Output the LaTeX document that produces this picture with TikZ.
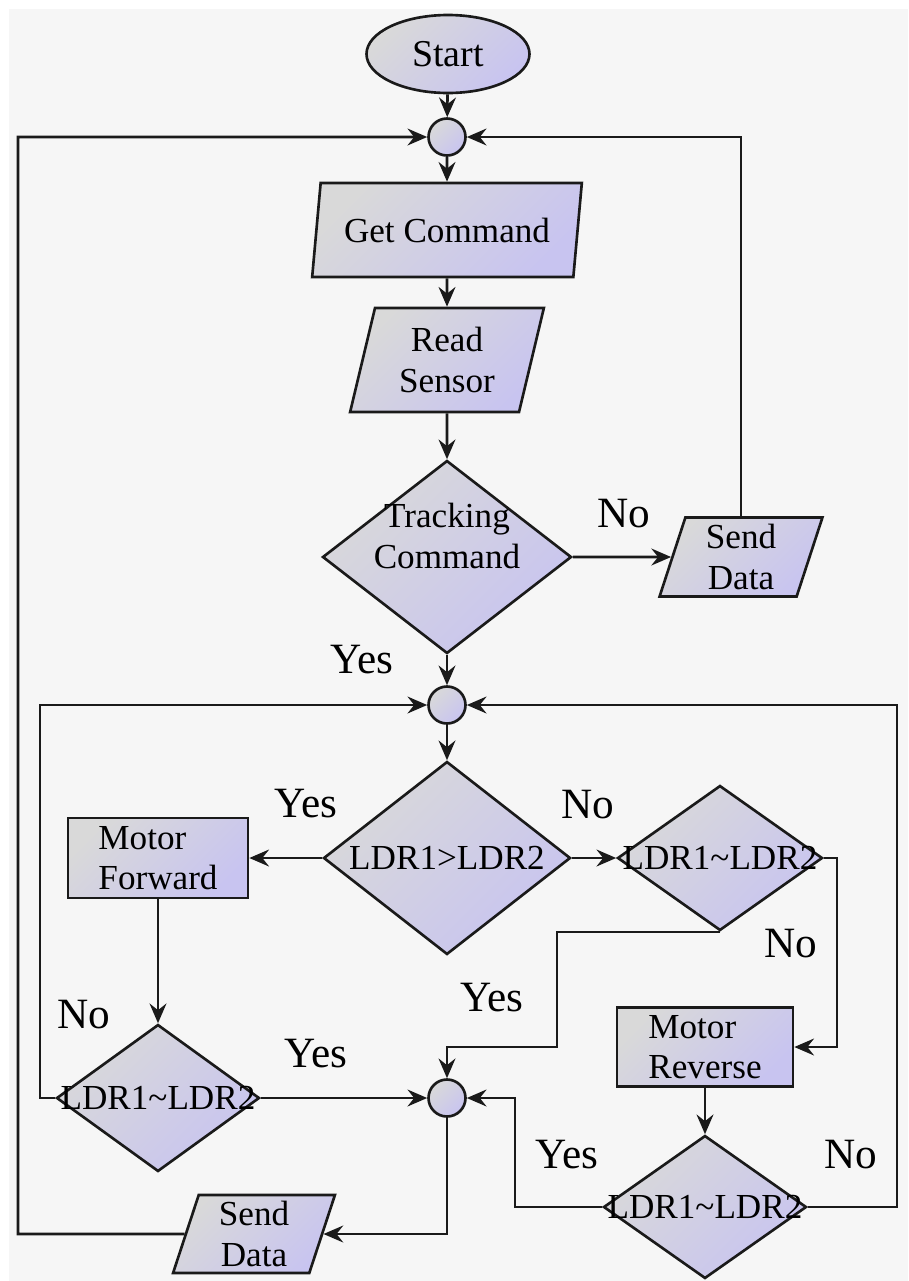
\documentclass[tikz,border=0pt]{standalone}
\usepackage{fontspec}
\setmainfont{Liberation Serif}
\usetikzlibrary{shapes.geometric,arrows.meta}
\definecolor{bg}{HTML}{F6F6F6}
\definecolor{gfill}{HTML}{D9D9D9}
\definecolor{lfill}{HTML}{C8C4F0}
\definecolor{ink}{HTML}{1A1A1A}
\tikzset{
  base/.style={draw=ink, line width=0.75pt, top color=gfill, bottom color=lfill, shading angle=45,
    font=\fontsize{10}{11.5}\selectfont, inner sep=0.5pt},
  para/.style={base, trapezium, trapezium left angle=76, trapezium right angle=104,
    trapezium stretches=true, align=center},
  proc/.style={base, rectangle, align=left, inner sep=0pt},
  decision/.style={base, diamond, inner sep=0pt},
  joint/.style={base, circle, minimum size=0.37cm, inner sep=0pt},
  term/.style={base, ellipse, minimum width=1.63cm, minimum height=0.78cm},
  arr/.style={draw=ink, line width=0.75pt, -{Stealth[length=5.6pt,width=4.8pt,inset=1.9pt]}},
  lbl/.style={font=\fontsize{12.3}{14}\selectfont, inner sep=0pt},
  dtext/.style={font=\fontsize{10}{11.5}\selectfont, align=center, inner sep=0pt}
}
\begin{document}
\begin{tikzpicture}
\useasboundingbox (0,0) rectangle (9.08,-12.81);
\fill[white] (0,0) rectangle (9.08,-12.81);
\fill[bg] (0.09,-0.09) rectangle (9.08,-12.81);

% nodes
\node[term, font=\fontsize{10.8}{12}\selectfont] (start) at (4.48,-0.54) {Start};
\node[joint] (c1) at (4.47,-1.37) {};
\node[para, minimum width=2.70cm, minimum height=0.94cm] (get) at (4.47,-2.30) {Get Command};
\node[para, minimum width=1.94cm, minimum height=1.04cm] (read) at (4.47,-3.60) {Read\\Sensor};
\node[decision, minimum width=2.49cm, minimum height=1.93cm] (track) at (4.47,-5.57) {};
\node[dtext] (tracktext) at (4.47,-5.36) {Tracking\\Command};
\node[para, minimum width=1.63cm, minimum height=0.79cm] (send1) at (7.41,-5.57) {Send\\Data};
\node[joint] (c2) at (4.47,-7.05) {};
\node[decision, minimum width=2.47cm, minimum height=1.93cm] (cmp) at (4.47,-8.58) {\makebox[0pt]{LDR1>LDR2}};
\node[proc, minimum width=1.80cm, minimum height=0.80cm] (mf) at (1.58,-8.58) {Motor\\Forward};
\node[decision, minimum width=2.05cm, minimum height=1.45cm] (eq2) at (7.20,-8.58) {\makebox[0pt]{LDR1\textasciitilde LDR2}};
\node[decision, minimum width=2.03cm, minimum height=1.47cm] (eq1) at (1.58,-10.98) {\makebox[0pt]{LDR1\textasciitilde LDR2}};
\node[joint] (c3) at (4.47,-10.98) {};
\node[proc, minimum width=1.76cm, minimum height=0.79cm] (mr) at (7.05,-10.47) {Motor\\Reverse};
\node[decision, minimum width=2.03cm, minimum height=1.43cm] (eq3) at (7.05,-12.07) {\makebox[0pt]{LDR1\textasciitilde LDR2}};
\node[para, minimum width=1.62cm, minimum height=0.78cm] (send2) at (2.54,-12.34) {Send\\Data};

% helper coordinates
\coordinate (lb) at (0.18,-12.34);
\coordinate (lt) at (0.18,-1.37);
\coordinate (ll1) at (0.40,-10.98);
\coordinate (ll2) at (0.40,-7.05);
\coordinate (e2r) at (8.37,-8.58);
\coordinate (e2b) at (5.57,-10.47);
\coordinate (e3l) at (5.15,-10.98);
\coordinate (e3r) at (8.97,-7.05);

% connectors
\draw[arr] (start) -- (c1);
\draw[arr] (c1) -- (get);
\draw[arr] (get) -- (read);
\draw[arr] (read) -- (track);
\draw[arr] (track.east) -- (send1);
\draw[arr] (send1.north) |- (c1.east);
\draw[arr] (track.south) -- (c2);
\draw[arr] (c2) -- (cmp.north);
\draw[arr] (cmp.west) -- (mf.east);
\draw[arr] (cmp.east) -- (eq2.west);
\draw[arr] (mf.south) -- (eq1.north);
\draw[arr] (eq1.east) -- (c3.west);
\draw[arr] (eq1.west) -- (ll1) -- (ll2) -- (c2.west);
\draw[arr] (eq2.east) -- (e2r) |- (mr.east);
\draw[arr] (eq2.south) -| (e2b) -- (c3.north |- e2b) -- (c3.north);
\draw[arr] (mr.south) -- (eq3.north);
\draw[arr] (eq3.west) -| (e3l) -- (c3.east);
\draw[arr] (eq3.east) -| (e3r) -- (c2.east);
\draw[arr] (c3.south) |- (send2.east);
\draw[arr] (send2.west) -- (lb) -- (lt) -- (c1.west);

% labels
\node[lbl] (lNo1) at (6.24,-5.14) {No};
\node[lbl] (lYes1) at (3.62,-6.60) {Yes};
\node[lbl] (lYes2) at (3.06,-8.04) {Yes};
\node[lbl] (lNo2) at (5.88,-8.05) {No};
\node[lbl] (lNo3) at (7.91,-9.44) {No};
\node[lbl] (lYes3) at (4.92,-9.98) {Yes};
\node[lbl] (lNo4) at (0.84,-10.15) {No};
\node[lbl] (lYes4) at (3.16,-10.54) {Yes};
\node[lbl] (lYes5) at (5.67,-11.55) {Yes};
\node[lbl] (lNo5) at (8.51,-11.55) {No};
\end{tikzpicture}
\end{document}
